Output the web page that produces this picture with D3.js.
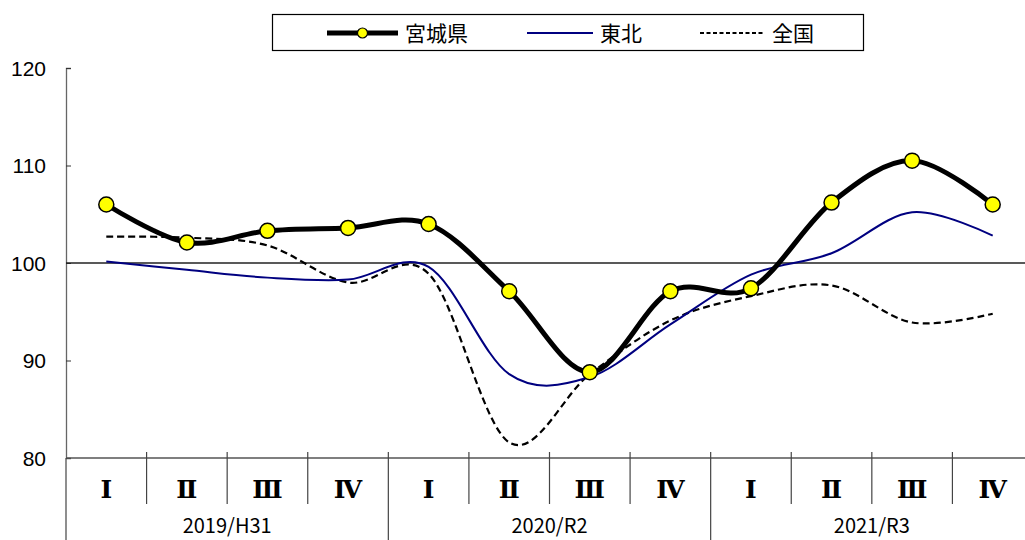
<!DOCTYPE html>
<html>
<head>
<meta charset="utf-8">
<script src="https://cdn.jsdelivr.net/npm/d3@7"></script>
<style>
	body { margin: 0; background: #fff; }
	svg { display: block; }
</style>
</head>
<body>
<div id="chart"></div>
<script>
const quarters = ['Ⅰ', 'Ⅱ', 'Ⅲ', 'Ⅳ', 'Ⅰ', 'Ⅱ', 'Ⅲ', 'Ⅳ', 'Ⅰ', 'Ⅱ', 'Ⅲ', 'Ⅳ']
const years = ['2019/H31', '2020/R2', '2021/R3']
const miyagi = [106.0, 102.1, 103.3, 103.6, 104.0, 97.1, 88.8, 97.1, 97.4, 106.2, 110.5, 106.0]
const tohoku = [100.15, 99.3, 98.5, 98.3, 99.6, 88.6, 88.3, 93.7, 98.8, 101.0, 105.2, 102.8]
const zenkoku = [102.7, 102.6, 101.8, 98.0, 98.9, 81.6, 88.6, 94.1, 96.6, 97.7, 93.9, 94.8]
const yTicks = [80, 90, 100, 110, 120]

const width = 1025
const height = 540
const plotLeft = 66
const plotRight = 1033
const plotTop = 68
const plotBottom = 458

const jpFont = "'Noto Sans CJK JP', sans-serif"

const svg = d3
	.select('#chart')
	.append('svg')
	.attr('width', width)
	.attr('height', height)

const x = d3.scaleBand().domain(d3.range(quarters.length)).range([plotLeft, plotRight])
const y = d3.scaleLinear().domain([80, 120]).range([plotBottom, plotTop])
const cx = (i) => x(i) + x.bandwidth() / 2

// y axis
const yAxis = svg
	.append('g')
	.attr('transform', 'translate(' + plotLeft + ',0)')
	.call(d3.axisRight(y).tickValues(yTicks).tickSize(5).tickFormat(''))
yAxis.select('.domain').attr('stroke', '#666').attr('stroke-width', 1.3)
yAxis.selectAll('.tick line').attr('stroke', '#333')

svg
	.selectAll('.ylab')
	.data(yTicks)
	.enter()
	.append('text')
	.attr('x', 46)
	.attr('y', (d) => y(d))
	.attr('dy', '0.36em')
	.attr('text-anchor', 'end')
	.attr('font-family', "'Liberation Sans', Arial, sans-serif")
	.attr('font-size', 21)
	.text((d) => d)

// x axis line + 100 reference line
svg
	.append('line')
	.attr('x1', plotLeft)
	.attr('x2', width)
	.attr('y1', plotBottom)
	.attr('y2', plotBottom)
	.attr('stroke', '#555')
	.attr('stroke-width', 1.3)

svg
	.append('line')
	.attr('x1', plotLeft)
	.attr('x2', width)
	.attr('y1', y(100))
	.attr('y2', y(100))
	.attr('stroke', '#222')
	.attr('stroke-width', 1.6)

// quarter dividers
svg
	.selectAll('.qdiv')
	.data(d3.range(1, quarters.length))
	.enter()
	.append('line')
	.attr('x1', (i) => x(i))
	.attr('x2', (i) => x(i))
	.attr('y1', plotBottom - 6)
	.attr('y2', (i) => (i % 4 === 0 ? height : 504))
	.attr('stroke', '#444')
	.attr('stroke-width', 1.2)

svg
	.append('line')
	.attr('x1', plotLeft)
	.attr('x2', plotLeft)
	.attr('y1', plotBottom)
	.attr('y2', height)
	.attr('stroke', '#444')
	.attr('stroke-width', 1.2)

svg
	.selectAll('.qlab')
	.data(quarters)
	.enter()
	.append('text')
	.attr('x', (_d, i) => cx(i))
	.attr('y', 489)
	.attr('dy', '0.36em')
	.attr('text-anchor', 'middle')
	.attr('font-family', "'DejaVu Serif', 'Liberation Serif', serif")
	.attr('font-weight', 'bold')
	.attr('font-size', 25)
	.text((d) => d)

svg
	.selectAll('.yearlab')
	.data(years)
	.enter()
	.append('text')
	.attr('x', (_d, i) => (x(i * 4) + x(i * 4 + 3) + x.bandwidth()) / 2)
	.attr('y', 526)
	.attr('dy', '0.36em')
	.attr('text-anchor', 'middle')
	.attr('font-family', jpFont)
	.attr('font-size', 20)
	.text((d) => d)

// series
const line = d3
	.line()
	.x((_d, i) => cx(i))
	.y((d) => y(d))
	.curve(d3.curveCatmullRom.alpha(0))

svg
	.append('path')
	.datum(zenkoku)
	.attr('d', line)
	.attr('fill', 'none')
	.attr('stroke', '#000')
	.attr('stroke-width', 2.2)
	.attr('stroke-dasharray', '7,4')

svg
	.append('path')
	.datum(tohoku)
	.attr('d', line)
	.attr('fill', 'none')
	.attr('stroke', '#000080')
	.attr('stroke-width', 2)

svg
	.append('path')
	.datum(miyagi)
	.attr('d', line)
	.attr('fill', 'none')
	.attr('stroke', '#000')
	.attr('stroke-width', 5)

svg
	.selectAll('.pt')
	.data(miyagi)
	.enter()
	.append('circle')
	.attr('cx', (_d, i) => cx(i))
	.attr('cy', (d) => y(d))
	.attr('r', 7.5)
	.attr('fill', '#ffff00')
	.attr('stroke', '#000')
	.attr('stroke-width', 1.5)

// legend
const legend = svg.append('g')
legend
	.append('rect')
	.attr('x', 272.5)
	.attr('y', 14.5)
	.attr('width', 591)
	.attr('height', 36)
	.attr('fill', '#fff')
	.attr('stroke', '#000')
	.attr('stroke-width', 1.2)

const legendItems = [
	{ name: '宮城県', x1: 327, x2: 398, color: '#000', w: 5, dash: null, marker: true },
	{ name: '東北', x1: 527, x2: 593, color: '#000080', w: 2, dash: null, marker: false },
	{ name: '全国', x1: 700, x2: 765, color: '#000', w: 2, dash: '4,2.5', marker: false },
]

legendItems.forEach((d) => {
	legend
		.append('line')
		.attr('x1', d.x1)
		.attr('x2', d.x2)
		.attr('y1', 33)
		.attr('y2', 33)
		.attr('stroke', d.color)
		.attr('stroke-width', d.w)
		.attr('stroke-dasharray', d.dash)
	if (d.marker) {
		legend
			.append('circle')
			.attr('cx', (d.x1 + d.x2) / 2)
			.attr('cy', 33)
			.attr('r', 5)
			.attr('fill', '#ffff00')
			.attr('stroke', '#000')
			.attr('stroke-width', 1.2)
	}
	legend
		.append('text')
		.attr('x', d.x2 + 7)
		.attr('y', 33)
		.attr('dy', '0.36em')
		.attr('font-family', jpFont)
		.attr('font-size', 21)
		.text(d.name)
})
</script>
</body>
</html>
